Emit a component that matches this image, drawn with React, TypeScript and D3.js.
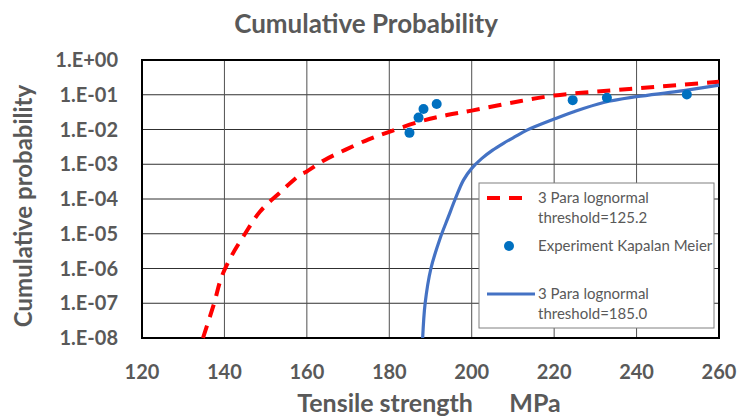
import React, { useEffect, useRef } from 'react'
import * as d3 from 'd3'

// strength (MPa) vs cumulative probability
const redX = [134.8, 137.5, 139.3, 141.8, 145, 148.6, 153.1, 158.3, 160, 164, 169.3, 175, 180, 187.5, 194, 200, 210, 220, 230, 240, 250, 260]
const redP = [1e-8, 1e-7, 5.7e-7, 2.4e-6, 1e-5, 4.3e-5, 1.4e-4, 4.9e-4, 6.2e-4, 1.26e-3, 2.6e-3, 5.2e-3, 8.6e-3, 0.017, 0.026, 0.035, 0.06, 0.095, 0.122, 0.153, 0.19, 0.235]

const blueX = [188.1, 188.7, 190.1, 192.3, 194.3, 196, 198, 200, 202.4, 205, 207.7, 210.5, 213.4, 220, 224.6, 232, 240, 250, 260]
const blueP = [1e-8, 1e-7, 1e-6, 7.2e-6, 3e-5, 1e-4, 3.5e-4, 7.6e-4, 1.45e-3, 2.5e-3, 4e-3, 6.2e-3, 9.6e-3, 0.02, 0.032, 0.06, 0.088, 0.125, 0.19]

const expX = [184.9, 187.1, 188.3, 191.5, 224.5, 232.8, 252.2]
const expP = [0.008, 0.022, 0.039, 0.054, 0.07, 0.082, 0.102]

const xTicks = [120, 140, 160, 180, 200, 220, 240, 260]
const yTicks = [1, 1e-1, 1e-2, 1e-3, 1e-4, 1e-5, 1e-6, 1e-7, 1e-8]
const yTickLabels = ['1.E+00', '1.E-01', '1.E-02', '1.E-03', '1.E-04', '1.E-05', '1.E-06', '1.E-07', '1.E-08']

const W = 741, H = 419
const FONT = 'Lato, "Open Sans", sans-serif'
const GREY = '#595959'

export default function App() {
  const ref = useRef<SVGSVGElement>(null)

  useEffect(() => {
    const svg = d3.select(ref.current)
    svg.selectAll('*').remove()

    const margin = { top: 60, left: 142, right: 22, bottom: 81 }
    const width = W - margin.left - margin.right
    const height = H - margin.top - margin.bottom

    const x = d3.scaleLinear().domain([120, 260]).range([0, width])
    const y = d3.scaleLog().domain([1e-8, 1]).range([height, 0])

    svg.append('rect').attr('width', W).attr('height', H).attr('fill', '#fff')

    // title
    svg.append('text')
      .attr('x', 366).attr('y', 33)
      .attr('text-anchor', 'middle')
      .attr('font-family', FONT).attr('font-weight', 'bold')
      .attr('font-size', 26).attr('fill', GREY)
      .text('Cumulative Probability')

    const g = svg.append('g').attr('transform', `translate(${margin.left},${margin.top})`)

    // grid
    g.selectAll('.hgrid').data(yTicks).enter().append('line')
      .attr('x1', 0).attr('x2', width)
      .attr('y1', d => y(d)).attr('y2', d => y(d))
      .attr('stroke', '#303030').attr('stroke-width', 1)
    g.selectAll('.vgrid').data(xTicks).enter().append('line')
      .attr('y1', 0).attr('y2', height)
      .attr('x1', d => x(d)).attr('x2', d => x(d))
      .attr('stroke', '#505050').attr('stroke-width', 1)

    // frame
    g.append('rect')
      .attr('width', width).attr('height', height)
      .attr('fill', 'none').attr('stroke', '#000').attr('stroke-width', 2)

    // tick labels
    g.selectAll('.ylab').data(yTicks).enter().append('text')
      .attr('x', -24).attr('y', d => y(d))
      .attr('dy', '0.35em')
      .attr('text-anchor', 'end')
      .attr('font-family', FONT).attr('font-weight', 'bold')
      .attr('font-size', 20).attr('fill', GREY)
      .text((d, i) => yTickLabels[i])

    g.selectAll('.xlab').data(xTicks).enter().append('text')
      .attr('x', d => x(d)).attr('y', height + 41)
      .attr('text-anchor', 'middle')
      .attr('font-family', FONT).attr('font-weight', 'bold')
      .attr('font-size', 20).attr('fill', GREY)
      .text(d => d)

    // axis titles
    svg.append('text')
      .attr('x', 429).attr('y', 412)
      .attr('text-anchor', 'middle')
      .attr('font-family', FONT).attr('font-weight', 'bold')
      .attr('font-size', 25).attr('fill', GREY)
      .style('white-space', 'pre')
      .text('Tensile strength      MPa')

    svg.append('text')
      .attr('transform', 'translate(32,206) rotate(-90)')
      .attr('text-anchor', 'middle')
      .attr('font-family', FONT).attr('font-weight', 'bold')
      .attr('font-size', 24).attr('fill', GREY)
      .text('Cumulative probability')

    const line = d3.line<[number, number]>()
      .x(d => x(d[0]))
      .y(d => y(d[1]))
      .curve(d3.curveCatmullRom.alpha(0.5))

    g.append('path')
      .datum(redX.map((v, i) => [v, redP[i]] as [number, number]))
      .attr('d', line)
      .attr('fill', 'none').attr('stroke', '#FF0000')
      .attr('stroke-width', 4).attr('stroke-dasharray', '13,9')

    g.append('path')
      .datum(blueX.map((v, i) => [v, blueP[i]] as [number, number]))
      .attr('d', line)
      .attr('fill', 'none').attr('stroke', '#4472C4')
      .attr('stroke-width', 3.2)

    g.selectAll('.dot').data(expX).enter().append('circle')
      .attr('cx', d => x(d)).attr('cy', (d, i) => y(expP[i]))
      .attr('r', 5).attr('fill', '#0070C0')

    // legend
    const lg = svg.append('g').attr('transform', 'translate(479,183)')
    lg.append('rect').attr('width', 235).attr('height', 145)
      .attr('fill', '#fff').attr('stroke', '#808080').attr('stroke-width', 1)
    lg.append('line').attr('x1', 8).attr('x2', 49).attr('y1', 15).attr('y2', 15)
      .attr('stroke', '#FF0000').attr('stroke-width', 4).attr('stroke-dasharray', '13,9')
    lg.append('circle').attr('cx', 30).attr('cy', 63).attr('r', 5).attr('fill', '#0070C0')
    lg.append('line').attr('x1', 8).attr('x2', 56).attr('y1', 111).attr('y2', 111)
      .attr('stroke', '#4472C4').attr('stroke-width', 3.2)
    const legendText = [
      ['3 Para lognormal', 15], ['threshold=125.2', 35],
      ['Experiment Kapalan Meier', 63],
      ['3 Para lognormal', 111], ['threshold=185.0', 131],
    ] as [string, number][]
    lg.selectAll('.lt').data(legendText).enter().append('text')
      .attr('x', 59).attr('y', d => d[1]).attr('dy', '0.35em')
      .attr('font-family', FONT).attr('font-size', 15).attr('fill', GREY)
      .text(d => d[0])
  }, [])

  return (
    <div style={{ position: 'absolute', left: 0, top: 0 }}>
      <svg ref={ref} width={W} height={H} />
    </div>
  )
}
